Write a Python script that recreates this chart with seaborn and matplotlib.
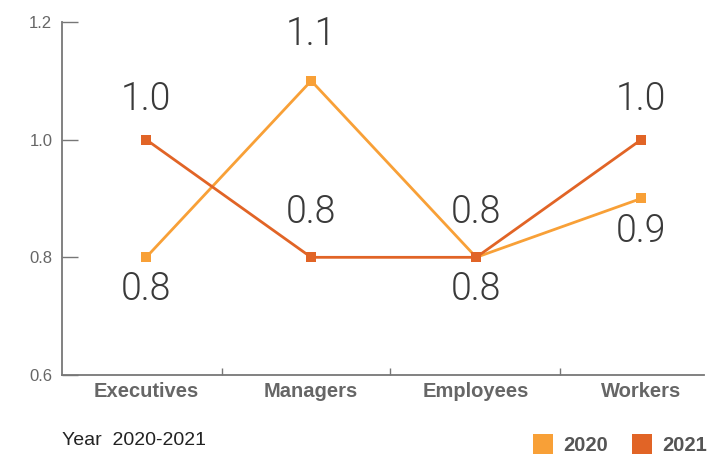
import numpy as np
import pandas as pd
import matplotlib.pyplot as plt
import seaborn as sns
from matplotlib.lines import Line2D

# 数据
categories = ['Executives', 'Managers', 'Employees', 'Workers']
years = ['2020', '2021']
values_2020 = [0.8, 1.1, 0.8, 0.9]
values_2021 = [1.0, 0.8, 0.8, 1.0]
label_offsets_2020 = [-31, 26, -31, -31]   # 标签相对点的偏移 (points)
label_offsets_2021 = [21, 25, 25, 21]
yticks = [0.6, 0.8, 1.0, 1.2]

colors = {'2020': '#F8A037', '2021': '#E16426'}

sns.set_theme(style='white')
plt.rcParams['font.family'] = ['Liberation Sans', 'DejaVu Sans']

df = pd.DataFrame({
    'category': categories * 2,
    'value': values_2020 + values_2021,
    'year': ['2020'] * 4 + ['2021'] * 4,
})

fig = plt.figure(figsize=(7.07, 4.57), dpi=100)
ax = fig.add_axes([0.0877, 0.1794, 0.908, 0.7726])

sns.lineplot(data=df, x='category', y='value', hue='year', style='year',
             palette=colors, markers=['s', 's'], dashes=False, sort=False,
             linewidth=2.0, markersize=7, markeredgewidth=0, ax=ax, legend=False)

# 数值标签
for vals, offs in [(values_2020, label_offsets_2020), (values_2021, label_offsets_2021)]:
    for i, (v, o) in enumerate(zip(vals, offs)):
        ax.annotate(f'{v:.1f}', (i, v), xytext=(0, o), textcoords='offset points',
                    ha='center', va='baseline', fontsize=27, color='#3a3a3a',
                    family=['Roboto', 'DejaVu Sans'], fontweight=300)

ax.set_xlim(-0.51, 3.38)
ax.set_ylim(0.6, 1.2)
ax.set_yticks(yticks)
ax.set_yticklabels([f'{t:.1f}' for t in yticks])
ax.set_xticks(range(len(categories)))
ax.set_xticklabels(categories, fontweight='bold', fontsize=14.5, color='#666666')
ax.set_xticks([0.46, 1.48, 2.51], minor=True)
ax.set_xlabel('')
ax.set_ylabel('')

ax.tick_params(axis='y', direction='in', length=11.5, width=1, color='#777777',
               labelsize=12, labelcolor='#666666', pad=7, left=True)
ax.tick_params(axis='x', which='major', length=0, pad=5)
ax.tick_params(axis='x', which='minor', direction='in', length=5, width=1,
               color='#777777', bottom=True)

sns.despine(ax=ax)
for s in ['left', 'bottom']:
    ax.spines[s].set_color('#777777')
    ax.spines[s].set_linewidth(1.3)

fig.text(0.0877, 0.027, 'Year  2020-2021', fontsize=14, color='#222222')

handles = [Line2D([], [], marker='s', linestyle='none', markersize=15,
                  markerfacecolor=colors[y], markeredgewidth=0) for y in years]
leg = fig.legend(handles, years, loc='lower right', bbox_to_anchor=(1.026, -0.035),
                 ncol=2, frameon=False, handlelength=1.0, handletextpad=0.5,
                 columnspacing=1.2, prop={'weight': 'bold', 'size': 14.5})
for t in leg.get_texts():
    t.set_color('#555555')

fig.savefig('out.png', dpi=100)
